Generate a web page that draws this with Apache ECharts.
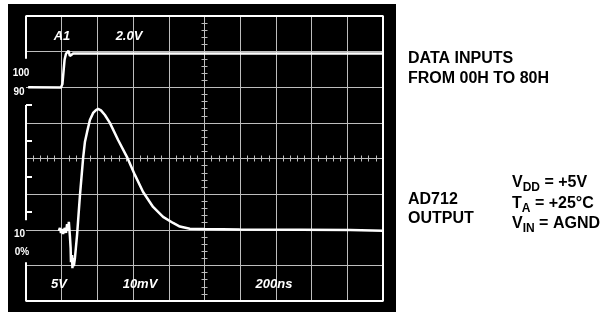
<!DOCTYPE html>
<html>
<head>
<meta charset="utf-8">
<script src="https://cdn.jsdelivr.net/npm/echarts@6/dist/echarts.min.js"></script>
<style>
  html, body { margin: 0; padding: 0; background: #fff; }
  #scope { width: 611px; height: 312px; }
</style>
</head>
<body>
<div id="scope"></div>
<script>
// screen is in divisions: x -5..5, y -4..4, 0 = centre of graticule
const upperTrace = [
  [-4.94, 2.0], [-4.02, 1.99], [-3.98, 2.09], [-3.95, 2.43], [-3.92, 2.77],
  [-3.88, 2.94], [-3.85, 2.99], [-3.81, 3.02], [-3.77, 2.88], [-3.74, 2.89],
  [-3.68, 2.95], [-3.49, 2.95], [5.0, 2.95]
];

const lowerTrace = [
  [-4.08, -2.03], [-4.05, -1.95], [-4.02, -2.09], [-3.99, -1.98], [-3.96, -2.12],
  [-3.94, -2.01], [-3.91, -1.95], [-3.88, -2.09], [-3.85, -1.84], [-3.82, -2.03],
  [-3.80, -1.78], [-3.77, -2.18], [-3.75, -2.51], [-3.74, -2.91], [-3.71, -2.71],
  [-3.70, -3.08], [-3.68, -2.80], [-3.66, -3.02], [-3.63, -2.80], [-3.57, -2.15],
  [-3.49, -1.05], [-3.40, 0.01], [-3.35, 0.46], [-3.29, 0.74], [-3.21, 1.08],
  [-3.12, 1.28], [-3.04, 1.36], [-2.98, 1.39], [-2.90, 1.35], [-2.79, 1.22],
  [-2.65, 1.00], [-2.42, 0.52], [-2.17, 0.04], [-1.95, -0.46], [-1.72, -0.94],
  [-1.44, -1.36], [-1.16, -1.64], [-0.88, -1.81], [-0.69, -1.91], [-0.41, -1.97],
  [-0.01, -1.98], [0.99, -1.99], [2.68, -2.00], [4.08, -2.01], [5.0, -2.03]
];

// graticule border, left side is broken where the % marks sit
const border = [
  [-5, -1.73], [-5, 1.5], [-5, null], [-5, 2.8], [-5, 4], [5, 4], [5, -4],
  [-5, -4], [-5, -2.91]
];
const borderTicks = [-1.5, -0.5, 0.5, 1.5];

const scopeLabels = ["A1", "2.0V", "5V", "10mV", "200ns"];
const percentLabels = ["100", "90", "10", "0%"];

const chart = echarts.init(document.getElementById("scope"));

const gridColor = "#bdbdbd";
const hidden = { show: false };

// small axes that only carry the centre tick marks
const centreX = (pos) => ({
  type: "value", min: -5, max: 5, interval: 0.2, position: pos,
  axisLine: { show: true, onZero: true, onZeroAxisIndex: 0, lineStyle: { color: gridColor, width: 1 } },
  axisTick: { show: true, inside: true, length: 3, lineStyle: { color: gridColor } },
  axisLabel: hidden, splitLine: hidden,
});
const centreY = (pos) => ({
  type: "value", min: -4, max: 4, interval: 0.2, position: pos,
  axisLine: { show: true, onZero: true, onZeroAxisIndex: 0, lineStyle: { color: gridColor, width: 1 } },
  axisTick: { show: true, inside: true, length: 3, lineStyle: { color: gridColor } },
  axisLabel: hidden, splitLine: hidden,
});

const labelFont = { fill: "#fff", font: "italic bold 13px 'Liberation Sans', Arial, sans-serif",
  textAlign: "center", textVerticalAlign: "middle", align: "center", verticalAlign: "middle" };
const pctFont = { fill: "#fff", font: "bold 10px 'Liberation Sans', Arial, sans-serif",
  textAlign: "center", textVerticalAlign: "middle", align: "center", verticalAlign: "middle" };
const sideFont = { fill: "#000", font: "bold 16px 'Liberation Sans', Arial, sans-serif",
  textAlign: "left", textVerticalAlign: "middle", align: "left", verticalAlign: "middle" };
const subRich = {
  n: { fontSize: 16, fontWeight: "bold", fontFamily: "Liberation Sans", lineHeight: 22 },
  s: { fontSize: 12, fontWeight: "bold", fontFamily: "Liberation Sans", lineHeight: 12, verticalAlign: "bottom" },
};

const option = {
  backgroundColor: "#fff",
  animation: false,
  grid: { left: 26, top: 16, width: 357, height: 285 },
  xAxis: [
    {
      type: "value", min: -5, max: 5, interval: 1,
      axisLine: hidden, axisTick: hidden, axisLabel: hidden,
      splitLine: { show: true, showMinLine: false, lineStyle: { color: gridColor, width: 1 } },
    },
    centreX("bottom"),
    centreX("top"),
  ],
  yAxis: [
    {
      type: "value", min: -4, max: 4, interval: 1,
      axisLine: hidden, axisTick: hidden, axisLabel: hidden,
      splitLine: { show: true, lineStyle: { color: gridColor, width: 1 } },
    },
    centreY("left"),
    centreY("right"),
    {
      type: "value", min: -4, max: 4, position: "left",
      axisLine: { show: false, onZero: false },
      axisTick: { show: true, inside: true, length: 6, customValues: borderTicks, lineStyle: { color: "#fff", width: 2 } },
      axisLabel: hidden, splitLine: hidden,
    },
  ],
  series: [
    {
      name: "border", type: "line", data: border, showSymbol: false, connectNulls: false,
      lineStyle: { color: "#fff", width: 2 }, z: 3, silent: true,
    },
    {
      name: "A1", type: "line", data: upperTrace, showSymbol: false,
      lineStyle: { color: "#fff", width: 2.5 }, z: 5,
    },
    {
      name: "AD712 output", type: "line", data: lowerTrace, showSymbol: false,
      lineStyle: { color: "#fff", width: 2.5 }, z: 5,
    },
  ],
  graphic: [
    { type: "rect", z: -10, shape: { x: 8, y: 4, width: 388, height: 310 }, style: { fill: "#000" } },
    { type: "text", z: 10, x: 62, y: 36, style: { ...labelFont, text: scopeLabels[0] } },
    { type: "text", z: 10, x: 129, y: 36, style: { ...labelFont, text: scopeLabels[1] } },
    { type: "text", z: 10, x: 59, y: 284, style: { ...labelFont, text: scopeLabels[2] } },
    { type: "text", z: 10, x: 140, y: 284, style: { ...labelFont, text: scopeLabels[3] } },
    { type: "text", z: 10, x: 274, y: 284, style: { ...labelFont, text: scopeLabels[4] } },
    { type: "text", z: 10, x: 21, y: 73, style: { ...pctFont, text: percentLabels[0] } },
    { type: "text", z: 10, x: 19, y: 92.5, style: { ...pctFont, text: percentLabels[1] } },
    { type: "text", z: 10, x: 19.5, y: 234, style: { ...pctFont, text: percentLabels[2] } },
    { type: "text", z: 10, x: 22, y: 252.5, style: { ...pctFont, text: percentLabels[3] } },
    { type: "text", x: 408, y: 59, style: { ...sideFont, text: "DATA INPUTS" } },
    { type: "text", x: 408, y: 79, style: { ...sideFont, text: "FROM 00H TO 80H" } },
    { type: "text", x: 408, y: 199.5, style: { ...sideFont, text: "AD712" } },
    { type: "text", x: 408, y: 219, style: { ...sideFont, text: "OUTPUT" } },
    { type: "text", x: 512, y: 183, style: { ...sideFont, text: "{n|V}{s|DD}{n| = +5V}", rich: subRich } },
    { type: "text", x: 512, y: 204, style: { ...sideFont, text: "{n|T}{s|A}{n| = +25°C}", rich: subRich } },
    { type: "text", x: 512, y: 224, style: { ...sideFont, text: "{n|V}{s|IN}{n| = AGND}", rich: subRich } },
  ],
};

chart.setOption(option);

window.addEventListener("resize", () => {
  chart.resize();
});
</script>
</body>
</html>
